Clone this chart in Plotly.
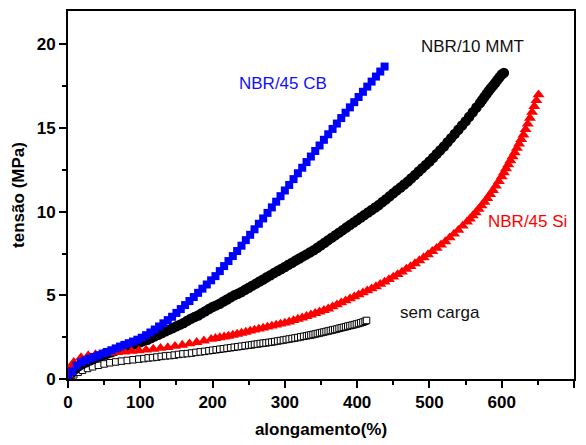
import plotly.graph_objects as go

# ---- data ----
cb_x = [0, 6, 12, 18, 24, 30, 36, 42, 48, 54, 60, 66, 72, 78, 84, 90, 96, 102, 108, 114,
        120, 126, 132, 138, 144, 150, 156, 162, 168, 174, 180, 186, 192, 198, 204, 210, 216,
        222, 228, 234, 240, 246, 252, 258, 264, 270, 276, 282, 288, 294, 300, 306, 312, 318,
        324, 330, 336, 342, 348, 354, 360, 366, 372, 378, 384, 390, 396, 402, 408, 414, 420,
        426, 432, 438]
cb_y = [0, 0.45, 0.8, 1.0, 1.12, 1.22, 1.32, 1.42, 1.52, 1.62, 1.72, 1.83, 1.94, 2.04, 2.14,
        2.24, 2.35, 2.47, 2.62, 2.78, 2.96, 3.14, 3.33, 3.52, 3.72, 3.95, 4.18, 4.42, 4.66, 4.9,
        5.15, 5.4, 5.65, 5.9, 6.15, 6.45, 6.75, 7.05, 7.35, 7.65, 7.97, 8.3, 8.62, 8.95, 9.28,
        9.6, 9.93, 10.26, 10.6, 10.93, 11.27, 11.6, 11.95, 12.3, 12.63, 12.97, 13.3, 13.63,
        13.96, 14.3, 14.63, 14.95, 15.27, 15.6, 15.92, 16.24, 16.55, 16.86, 17.17, 17.48,
        17.78, 18.08, 18.38, 18.68]

mmt_x = [0, 5, 10, 15, 20, 25, 30, 35, 40, 45, 50, 55, 60, 65, 70, 75, 80, 85, 90, 95, 100,
         105, 110, 115, 120, 125, 130, 135, 140, 145, 150, 155, 160, 165, 170, 175, 180, 185,
         190, 195, 200, 205, 210, 215, 220, 225, 230, 235, 240, 245, 250, 255, 260, 265, 270,
         275, 280, 285, 290, 295, 300, 305, 310, 315, 320, 325, 330, 335, 340, 345, 350, 355,
         360, 365, 370, 375, 380, 385, 390, 395, 400, 405, 410, 415, 420, 425, 430, 435, 440,
         445, 450, 455, 460, 465, 470, 475, 480, 485, 490, 495, 500, 505, 510, 515, 520, 525,
         530, 535, 540, 545, 550, 555, 560, 565, 570, 573, 576, 579, 582, 585, 588, 591, 594,
         597, 600, 603]
mmt_y = [0, 0.35, 0.6, 0.77, 0.9, 1.0, 1.1, 1.2, 1.3, 1.38, 1.45, 1.53, 1.6, 1.68, 1.75, 1.83,
         1.9, 1.98, 2.05, 2.13, 2.2, 2.28, 2.35, 2.45, 2.55, 2.65, 2.75, 2.85, 2.95, 3.05, 3.15,
         3.25, 3.35, 3.48, 3.6, 3.7, 3.8, 3.93, 4.05, 4.18, 4.3, 4.4, 4.5, 4.63, 4.75, 4.88, 5.0,
         5.1, 5.2, 5.33, 5.45, 5.58, 5.7, 5.83, 5.95, 6.08, 6.2, 6.33, 6.45, 6.58, 6.7, 6.83,
         6.95, 7.08, 7.2, 7.33, 7.45, 7.58, 7.7, 7.85, 8.0, 8.15, 8.3, 8.45, 8.6, 8.75, 8.9,
         9.05, 9.2, 9.35, 9.5, 9.65, 9.8, 9.95, 10.1, 10.25, 10.4, 10.58, 10.75, 10.93, 11.1,
         11.28, 11.45, 11.63, 11.8, 12.0, 12.2, 12.4, 12.6, 12.8, 13.0, 13.22, 13.45, 13.68,
         13.9, 14.15, 14.4, 14.65, 14.9, 15.15, 15.4, 15.68, 15.95, 16.23, 16.5, 16.68, 16.86,
         17.04, 17.22, 17.38, 17.54, 17.7, 17.87, 18.04, 18.2, 18.3]

si_x = [0, 4, 8, 18, 28, 38, 48, 58, 68, 78, 88, 98, 108, 118, 128, 138, 148, 158, 168, 178,
        188, 198, 204, 210, 216, 222, 228, 234, 240, 246, 252, 258, 264, 270, 276, 282, 288,
        294, 300, 306, 312, 318, 324, 330, 336, 342, 348, 354, 360, 366, 372, 378, 384, 390,
        396, 402, 408, 414, 420, 426, 432, 438, 444, 450, 456, 462, 468, 474, 480, 486, 492,
        498, 504, 510, 516, 522, 528, 534, 540, 546, 552, 556, 560, 564, 568, 572, 576, 580,
        584, 588, 592, 596, 600, 603, 606, 609, 612, 615, 618, 621, 624, 627, 630, 633, 636,
        639, 642, 645, 648, 651]
si_y = [0.25, 0.7, 1.0, 1.28, 1.4, 1.46, 1.51, 1.55, 1.59, 1.62, 1.66, 1.7, 1.74, 1.79, 1.84,
        1.89, 1.96, 2.03, 2.11, 2.19, 2.28, 2.38, 2.43, 2.48, 2.52, 2.57, 2.63, 2.69, 2.75,
        2.81, 2.87, 2.93, 2.99, 3.05, 3.11, 3.17, 3.23, 3.29, 3.35, 3.42, 3.5, 3.58, 3.66,
        3.75, 3.84, 3.93, 4.02, 4.11, 4.2, 4.32, 4.44, 4.56, 4.68, 4.8, 4.92, 5.04, 5.16, 5.28,
        5.4, 5.53, 5.67, 5.8, 5.95, 6.1, 6.25, 6.4, 6.57, 6.73, 6.9, 7.08, 7.26, 7.44, 7.63,
        7.82, 8.02, 8.22, 8.45, 8.67, 8.9, 9.15, 9.4, 9.57, 9.76, 9.95, 10.15, 10.36, 10.58,
        10.8, 11.04, 11.28, 11.54, 11.82, 12.1, 12.34, 12.58, 12.82, 13.06, 13.3, 13.54, 13.8,
        14.06, 14.33, 14.6, 14.92, 15.25, 15.6, 15.95, 16.3, 16.65, 17.0]

sc_x = [0, 4, 8, 14, 20, 27, 34, 42, 50, 58, 66, 74, 82, 90, 98, 105, 111, 117, 123, 129, 135,
        141, 147, 153, 159, 165, 171, 177, 183, 189, 195, 200, 205, 210, 215, 220, 225, 230,
        235, 240, 245, 250, 254, 258, 262, 266, 270, 274, 278, 282, 286, 290, 294, 298, 302,
        306, 310, 314, 318, 322, 326, 330, 333, 336, 339, 342, 345, 348, 351, 354, 357, 360,
        363, 366, 369, 372, 375, 378, 381, 384, 387, 390, 393, 396, 399, 402, 405, 408, 411,
        413]
sc_y = [0, 0.12, 0.25, 0.4, 0.52, 0.63, 0.73, 0.82, 0.9, 0.97, 1.02, 1.07, 1.11, 1.15, 1.19,
        1.22, 1.26, 1.28, 1.31, 1.35, 1.38, 1.4, 1.43, 1.47, 1.5, 1.52, 1.55, 1.59, 1.62, 1.65,
        1.69, 1.72, 1.75, 1.78, 1.81, 1.84, 1.87, 1.9, 1.93, 1.96, 1.99, 2.02, 2.04, 2.07,
        2.09, 2.12, 2.14, 2.16, 2.19, 2.21, 2.24, 2.27, 2.3, 2.33, 2.36, 2.39, 2.42, 2.45,
        2.48, 2.52, 2.55, 2.58, 2.61, 2.63, 2.66, 2.69, 2.72, 2.75, 2.78, 2.81, 2.84, 2.87,
        2.9, 2.93, 2.96, 2.99, 3.03, 3.06, 3.09, 3.12, 3.16, 3.19, 3.22, 3.25, 3.29, 3.32,
        3.36, 3.4, 3.45, 3.5]

labels = ["NBR/45 CB", "NBR/10 MMT", "NBR/45 Si", "sem carga"]
label_x = [297, 559, 636, 515]
label_y = [17.65, 19.9, 9.4, 4.0]
label_colors = ["#1010ff", "#111111", "#ff0000", "#111111"]

x_ticks = [0, 100, 200, 300, 400, 500, 600, 700]
y_ticks = [0, 5, 10, 15, 20]

FONT = "Liberation Sans, Arial, sans-serif"

fig = go.Figure()
fig.add_trace(go.Scatter(x=sc_x, y=sc_y, mode="markers",
                         marker=dict(symbol="square", size=6.5, color="white",
                                     line=dict(color="black", width=1))))
fig.add_trace(go.Scatter(x=mmt_x, y=mmt_y, mode="markers",
                         marker=dict(symbol="circle", size=10.5, color="black",
                                     line=dict(width=0))))
fig.add_trace(go.Scatter(x=si_x, y=si_y, mode="markers",
                         marker=dict(symbol="triangle-up", size=10.5, color="#ff0000",
                                     line=dict(width=0))))
fig.add_trace(go.Scatter(x=cb_x, y=cb_y, mode="markers",
                         marker=dict(symbol="square", size=8, color="#0000ff",
                                     line=dict(width=0))))

for t, xx, yy, c in zip(labels, label_x, label_y, label_colors):
    fig.add_annotation(x=xx, y=yy, text=t, showarrow=False,
                       font=dict(family=FONT, size=17, color=c))

axis_common = dict(showline=True, linecolor="black", linewidth=2, mirror=True,
                   ticks="outside", ticklen=7, tickwidth=2, tickcolor="black",
                   showgrid=False, zeroline=False,
                   tickfont=dict(family=FONT, size=17, color="black", weight="bold"))

fig.update_xaxes(range=[0, 700], tickvals=x_ticks,
                 minor=dict(dtick=50, tick0=0, ticks="outside", ticklen=4, tickwidth=2,
                            tickcolor="black"),
                 title=dict(text="alongamento(%)", standoff=12,
                            font=dict(family=FONT, size=17, color="black", weight="bold")),
                 **axis_common)
fig.update_yaxes(range=[0, 22], tickvals=y_ticks,
                 minor=dict(dtick=2.5, tick0=0, ticks="outside", ticklen=4, tickwidth=2,
                            tickcolor="black"),
                 title=dict(text="tensão (MPa)", standoff=8,
                            font=dict(family=FONT, size=17, color="black", weight="bold")),
                 **axis_common)

fig.update_layout(width=586, height=445, margin=dict(l=68, r=12, t=9, b=64),
                  paper_bgcolor="white", plot_bgcolor="white", showlegend=False)

fig.write_html("out.html")
